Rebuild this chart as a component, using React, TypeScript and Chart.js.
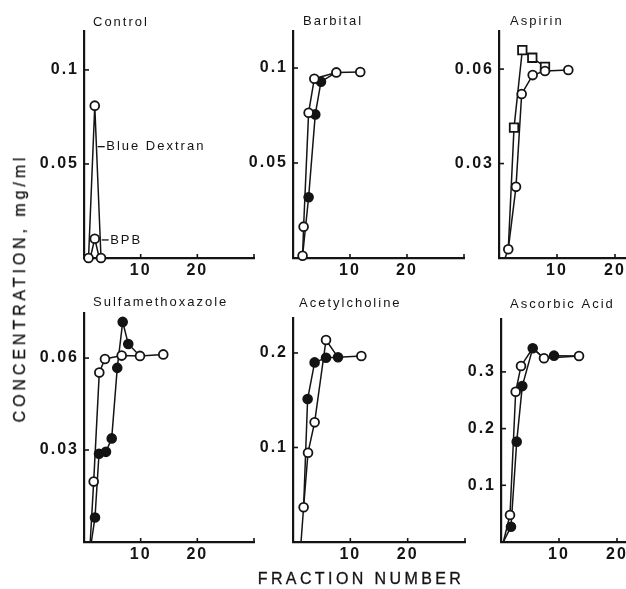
import React, { useEffect, useRef } from "react";
import { Chart, registerables } from "chart.js";

Chart.register(...registerables);

const INK = "#141414";
const FONT = '"Liberation Sans", Arial, Helvetica, sans-serif';

const yAxisTitle = "CONCENTRATION, mg/ml";
const xAxisTitle = "FRACTION NUMBER";

const fractionMin = 0;
const fractionMax = 30;
const fractionTicks = [10, 20, 30];
const fractionTickLabels = ["10", "20", ""];

// ---------- Control ----------
const controlTitle = "Control";
const controlYMax = 0.1207;
const controlYTicks = [0.05, 0.1];
const controlDextranX = [0.8, 1.9, 3.0];
const controlDextranY = [0, 0.081, 0];
const controlBpbX = [1.9];
const controlBpbY = [0.0102];
const controlBpbLineX = [1.1, 1.9, 2.7];
const controlBpbLineY = [0, 0.0102, 0];
const controlNoteText = ["Blue Dextran", "BPB"];
const controlNoteX = [2.42, 3.12];
const controlNoteY = [0.0592, 0.0096];

// ---------- Barbital ----------
const barbitalTitle = "Barbital";
const barbitalYMax = 0.1195;
const barbitalYTicks = [0.05, 0.1];
const barbitalOpenX = [1.68, 1.86, 2.74, 3.74, 7.6, 11.8];
const barbitalOpenY = [0.0012, 0.0165, 0.0765, 0.0944, 0.0977, 0.0979];
const barbitalFilledX = [2.74, 3.91, 4.91];
const barbitalFilledY = [0.032, 0.0756, 0.0928];
const barbitalFilledLineX = [1.68, 2.74, 3.91, 4.91, 7.6];
const barbitalFilledLineY = [0.0012, 0.032, 0.0756, 0.0928, 0.0977];

// ---------- Aspirin ----------
const aspirinTitle = "Aspirin";
const aspirinYMax = 0.0721;
const aspirinYTicks = [0.03, 0.06];
const aspirinOpenX = [1.6, 2.93, 3.91, 5.81, 7.93, 11.95];
const aspirinOpenY = [0.0028, 0.0226, 0.0521, 0.0581, 0.0594, 0.0597];
const aspirinOpenLineX = [1.05, 1.6, 2.93, 3.91, 5.81, 7.93, 11.95];
const aspirinOpenLineY = [0, 0.0028, 0.0226, 0.0521, 0.0581, 0.0594, 0.0597];
const aspirinSquareX = [2.59, 4.02, 5.74, 7.93];
const aspirinSquareY = [0.0414, 0.066, 0.0636, 0.0607];
const aspirinSquareLineX = [1.6, 2.59, 4.02, 5.74, 7.93];
const aspirinSquareLineY = [0.0028, 0.0414, 0.066, 0.0636, 0.0607];

// ---------- Sulfamethoxazole ----------
const sulfaTitle = "Sulfamethoxazole";
const sulfaYMax = 0.0747;
const sulfaYTicks = [0.03, 0.06];
const sulfaOpenX = [1.71, 2.7, 3.7, 6.65, 9.88, 13.99];
const sulfaOpenY = [0.0197, 0.0553, 0.0597, 0.0608, 0.0607, 0.0612];
const sulfaOpenLineX = [1.1, 1.71, 2.7, 3.7, 6.65, 9.88, 13.99];
const sulfaOpenLineY = [0, 0.0197, 0.0553, 0.0597, 0.0608, 0.0607, 0.0612];
const sulfaFilledX = [1.94, 2.65, 3.88, 4.89, 5.87, 6.83, 7.81];
const sulfaFilledY = [0.008, 0.0288, 0.0294, 0.0338, 0.0568, 0.0718, 0.0646];
const sulfaFilledLineX = [1.3, 1.94, 2.65, 3.88, 4.89, 5.87, 6.83, 7.81, 9.88];
const sulfaFilledLineY = [0, 0.008, 0.0288, 0.0294, 0.0338, 0.0568, 0.0718, 0.0646, 0.0607];

// ---------- Acetylcholine ----------
const acetylTitle = "Acetylcholine";
const acetylYMax = 0.237;
const acetylYTicks = [0.1, 0.2];
const acetylOpenX = [1.85, 2.62, 3.77, 5.76, 11.92];
const acetylOpenY = [0.0367, 0.0945, 0.1266, 0.2137, 0.1968];
const acetylOpenLineX = [1.4, 1.85, 2.62, 3.77, 5.76, 7.85];
const acetylOpenLineY = [0, 0.0367, 0.0945, 0.1266, 0.2137, 0.1954];
const acetylFilledX = [2.55, 3.77, 5.76, 7.85];
const acetylFilledY = [0.1513, 0.19, 0.195, 0.1954];
const acetylFilledLineX = [1.85, 2.55, 3.77, 5.76, 7.85, 11.92];
const acetylFilledLineY = [0.0367, 0.1513, 0.19, 0.195, 0.1954, 0.1968];

// ---------- Ascorbic Acid ----------
const ascorbicTitle = "Ascorbic Acid";
const ascorbicYMax = 0.3933;
const ascorbicYTicks = [0.1, 0.2, 0.3];
const ascorbicOpenX = [1.55, 2.53, 3.45, 7.41, 13.45];
const ascorbicOpenY = [0.0476, 0.265, 0.3105, 0.324, 0.328];
const ascorbicOpenLineX = [0.4, 1.55, 2.53, 3.45, 5.47, 7.41, 13.45];
const ascorbicOpenLineY = [0, 0.0476, 0.265, 0.3105, 0.3417, 0.324, 0.328];
const ascorbicFilledX = [1.72, 2.71, 3.67, 5.47, 9.14];
const ascorbicFilledY = [0.027, 0.177, 0.275, 0.3417, 0.3287];
const ascorbicFilledLineX = [0.4, 1.72, 2.71, 3.67, 5.47, 7.41, 9.14, 13.45];
const ascorbicFilledLineY = [0, 0.027, 0.177, 0.275, 0.3417, 0.324, 0.3287, 0.328];

// ---------- structures ----------
type Kind = "open" | "filled" | "square";
interface Series { kind: Kind; x: number[]; y: number[]; lineX: number[]; lineY: number[]; }
interface Panel { title: string; yMax: number; yTicks: number[]; series: Series[]; noteText: string[]; noteX: number[]; noteY: number[]; }

const PANELS: Panel[] = [
  {
    title: controlTitle, yMax: controlYMax, yTicks: controlYTicks,
    series: [
      { kind: "open", x: controlDextranX, y: controlDextranY, lineX: controlDextranX, lineY: controlDextranY },
      { kind: "open", x: controlBpbX, y: controlBpbY, lineX: controlBpbLineX, lineY: controlBpbLineY },
    ],
    noteText: controlNoteText, noteX: controlNoteX, noteY: controlNoteY,
  },
  {
    title: barbitalTitle, yMax: barbitalYMax, yTicks: barbitalYTicks,
    series: [
      { kind: "open", x: barbitalOpenX, y: barbitalOpenY, lineX: barbitalOpenX, lineY: barbitalOpenY },
      { kind: "filled", x: barbitalFilledX, y: barbitalFilledY, lineX: barbitalFilledLineX, lineY: barbitalFilledLineY },
    ],
    noteText: [], noteX: [], noteY: [],
  },
  {
    title: aspirinTitle, yMax: aspirinYMax, yTicks: aspirinYTicks,
    series: [
      { kind: "open", x: aspirinOpenX, y: aspirinOpenY, lineX: aspirinOpenLineX, lineY: aspirinOpenLineY },
      { kind: "square", x: aspirinSquareX, y: aspirinSquareY, lineX: aspirinSquareLineX, lineY: aspirinSquareLineY },
    ],
    noteText: [], noteX: [], noteY: [],
  },
  {
    title: sulfaTitle, yMax: sulfaYMax, yTicks: sulfaYTicks,
    series: [
      { kind: "open", x: sulfaOpenX, y: sulfaOpenY, lineX: sulfaOpenLineX, lineY: sulfaOpenLineY },
      { kind: "filled", x: sulfaFilledX, y: sulfaFilledY, lineX: sulfaFilledLineX, lineY: sulfaFilledLineY },
    ],
    noteText: [], noteX: [], noteY: [],
  },
  {
    title: acetylTitle, yMax: acetylYMax, yTicks: acetylYTicks,
    series: [
      { kind: "open", x: acetylOpenX, y: acetylOpenY, lineX: acetylOpenLineX, lineY: acetylOpenLineY },
      { kind: "filled", x: acetylFilledX, y: acetylFilledY, lineX: acetylFilledLineX, lineY: acetylFilledLineY },
    ],
    noteText: [], noteX: [], noteY: [],
  },
  {
    title: ascorbicTitle, yMax: ascorbicYMax, yTicks: ascorbicYTicks,
    series: [
      { kind: "open", x: ascorbicOpenX, y: ascorbicOpenY, lineX: ascorbicOpenLineX, lineY: ascorbicOpenLineY },
      { kind: "filled", x: ascorbicFilledX, y: ascorbicFilledY, lineX: ascorbicFilledLineX, lineY: ascorbicFilledLineY },
    ],
    noteText: [], noteX: [], noteY: [],
  },
];

// ---------- layout (plot-area boxes in page pixels) ----------
const LAYOUT = [
  { left: 84, top: 31, w: 170, h: 227, tdx: 9, tdy: 9 },
  { left: 293, top: 31, w: 171, h: 227, tdx: 10, tdy: 10 },
  { left: 499, top: 31, w: 174, h: 227, tdx: 11, tdy: 10 },
  { left: 84, top: 313, w: 170, h: 229, tdx: 9, tdy: 11 },
  { left: 293, top: 318, w: 172, h: 224, tdx: 6, tdy: 15 },
  { left: 501, top: 319, w: 174, h: 223, tdx: 9, tdy: 15 },
];
const PADL = 64;
const PADT = 40;
const PADR = 6;
const PADB = 30;

function buildChart(canvas: HTMLCanvasElement, panel: Panel, box: typeof LAYOUT[number]) {
  const lineSets = panel.series.map((s) => ({
    data: s.lineX.map((x, i) => ({ x, y: s.lineY[i] })),
    showLine: true,
    pointRadius: 0,
    borderColor: INK,
    borderWidth: 1.5,
    tension: 0,
    fill: false,
    clip: false as const,
    order: 2,
  }));
  const markSets = panel.series.map((s) => ({
    data: s.x.map((x, i) => ({ x, y: s.y[i] })),
    showLine: false,
    pointRadius: s.kind === "square" ? 6 : 4.4,
    pointStyle: s.kind === "square" ? "rect" : "circle",
    pointBackgroundColor: s.kind === "filled" ? INK : "#ffffff",
    pointBorderColor: INK,
    pointBorderWidth: 1.8,
    clip: false as const,
    order: 1,
  }));

  const decor = {
    id: "decor",
    beforeDraw(chart: any) {
      try { chart.ctx.letterSpacing = "2px"; } catch (e) { /* ignore */ }
    },
    afterDraw(chart: any) {
      const { ctx, chartArea, scales } = chart;
      ctx.save();
      ctx.strokeStyle = INK;
      ctx.lineWidth = 1.6;
      for (const v of fractionTicks) {
        const px = scales.x.getPixelForValue(v);
        ctx.beginPath();
        ctx.moveTo(px, chartArea.bottom);
        ctx.lineTo(px, chartArea.bottom - 4);
        ctx.stroke();
      }
      for (const v of panel.yTicks) {
        const py = scales.y.getPixelForValue(v);
        ctx.beginPath();
        ctx.moveTo(chartArea.left, py);
        ctx.lineTo(chartArea.left + 5, py);
        ctx.stroke();
      }
      ctx.fillStyle = INK;
      ctx.font = `13px ${FONT}`;
      try { ctx.letterSpacing = "2px"; } catch (e) { /* ignore */ }
      ctx.textAlign = "left";
      ctx.textBaseline = "middle";
      ctx.fillText(panel.title, chartArea.left + box.tdx, chartArea.top - box.tdy);
      panel.noteText.forEach((t, i) => {
        const px = scales.x.getPixelForValue(panel.noteX[i]);
        const py = scales.y.getPixelForValue(panel.noteY[i]);
        ctx.lineWidth = 1.3;
        ctx.beginPath();
        ctx.moveTo(px, py);
        ctx.lineTo(px + 7, py);
        ctx.stroke();
        ctx.fillText(t, px + 8.5, py);
      });
      ctx.restore();
    },
  };

  const tickFont = { family: FONT, size: 16, weight: "bold" as const };

  return new Chart(canvas, {
    type: "scatter",
    data: { datasets: [...markSets, ...lineSets] as any },
    options: {
      responsive: false,
      animation: false,
      devicePixelRatio: 1,
      events: [],
      layout: { padding: { left: 0, top: PADT, right: PADR, bottom: 0 }, autoPadding: false },
      plugins: { legend: { display: false }, tooltip: { enabled: false }, title: { display: false } },
      scales: {
        x: {
          type: "linear",
          min: fractionMin,
          max: fractionMax,
          afterFit: (s: any) => { s.height = PADB; },
          afterBuildTicks: (s: any) => { s.ticks = fractionTicks.map((v) => ({ value: v })); },
          ticks: {
            callback: (_v: any, i: number) => fractionTickLabels[i],
            font: tickFont,
            color: INK,
            padding: 3,
            maxRotation: 0,
            autoSkip: false,
          },
          grid: { display: true, drawOnChartArea: false, drawTicks: false },
          border: { display: true, color: INK, width: 2.2 },
        },
        y: {
          type: "linear",
          min: 0,
          max: panel.yMax,
          afterFit: (s: any) => { s.width = PADL; },
          afterBuildTicks: (s: any) => { s.ticks = panel.yTicks.map((v) => ({ value: v })); },
          ticks: {
            callback: (v: any) => String(v),
            font: tickFont,
            color: INK,
            padding: 5,
            autoSkip: false,
          },
          grid: { display: true, drawOnChartArea: false, drawTicks: false },
          border: { display: true, color: INK, width: 2.2 },
        },
      },
    } as any,
    plugins: [decor],
  });
}

export default function App() {
  const refs = useRef<(HTMLCanvasElement | null)[]>([]);

  useEffect(() => {
    const charts = PANELS.map((p, i) => buildChart(refs.current[i] as HTMLCanvasElement, p, LAYOUT[i]));
    return () => {
      charts.forEach((c) => c.destroy());
    };
  }, []);

  return (
    <div style={{ position: "absolute", left: 0, top: 0, width: 626, height: 589, overflow: "hidden", background: "#ffffff" }}>
      {PANELS.map((p, i) => {
        const b = LAYOUT[i];
        const cw = b.w + PADL + PADR;
        const ch = b.h + PADT + PADB;
        return (
          <canvas
            key={p.title}
            ref={(el) => { refs.current[i] = el; }}
            width={cw}
            height={ch}
            style={{ position: "absolute", left: b.left - PADL, top: b.top - PADT, width: cw, height: ch }}
          />
        );
      })}
      <div
        style={{
          position: "absolute",
          left: 20,
          top: 288,
          transform: "translate(-50%, -50%) rotate(-90deg)",
          whiteSpace: "nowrap",
          font: `16px ${FONT}`,
          letterSpacing: "3.9px",
          WebkitTextStroke: `0.3px ${INK}`,
          color: INK,
        }}
      >
        {yAxisTitle}
      </div>
      <div
        style={{
          position: "absolute",
          left: 361,
          top: 579,
          transform: "translate(-50%, -50%)",
          whiteSpace: "nowrap",
          font: `16px ${FONT}`,
          letterSpacing: "3.4px",
          WebkitTextStroke: `0.3px ${INK}`,
          color: INK,
        }}
      >
        {xAxisTitle}
      </div>
    </div>
  );
}
